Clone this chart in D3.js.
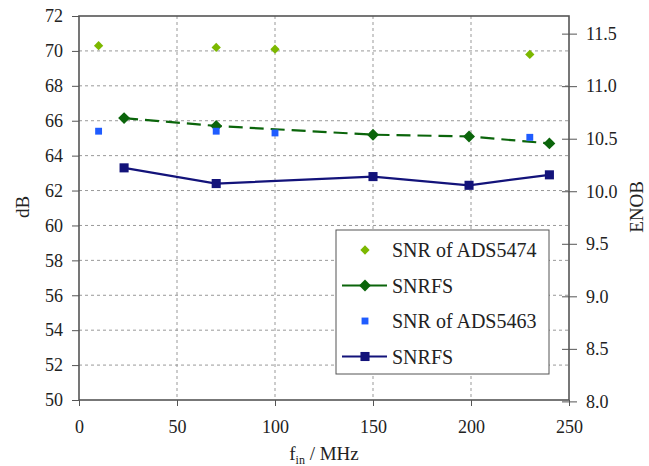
<!DOCTYPE html>
<html>
<head>
<meta charset="utf-8">
<script src="https://cdn.jsdelivr.net/npm/d3@7"></script>
<style>
  body { margin: 0; background: #fff; }
</style>
</head>
<body>
<div id="graph"></div>
<script>
// SNR of ADS5474 (markers only)
var ads5474X = [10, 70, 100, 230]
var ads5474Y = [70.3, 70.2, 70.1, 69.8]
// SNRFS (dashed, dark green)
var snrfsGreenX = [23, 70, 150, 199, 240]
var snrfsGreenY = [66.15, 65.7, 65.2, 65.1, 64.7]
// SNR of ADS5463 (markers only)
var ads5463X = [10, 70, 100, 230]
var ads5463Y = [65.4, 65.4, 65.3, 65.05]
// SNRFS (solid, navy)
var snrfsNavyX = [23, 70, 150, 199, 240]
var snrfsNavyY = [63.3, 62.4, 62.8, 62.3, 62.9]

var xTicks = [0, 50, 100, 150, 200, 250]
var yTicks = [50, 52, 54, 56, 58, 60, 62, 64, 66, 68, 70, 72]
var enobTicks = [8.0, 8.5, 9.0, 9.5, 10.0, 10.5, 11.0, 11.5]
var legendLabels = ['SNR of ADS5474', 'SNRFS', 'SNR of ADS5463', 'SNRFS']

var FONT = "'Liberation Serif', 'DejaVu Serif', serif"
var W = 649, H = 466
var m = {top: 16, left: 79, right: 80, bottom: 66}
var w = W - m.left - m.right, h = H - m.top - m.bottom

var svg = d3.select('#graph').append('svg').attr('width', W).attr('height', H)
  .style('font-family', FONT)
var g = svg.append('g').attr('transform', `translate(${m.left},${m.top})`)

var x = d3.scaleLinear().domain([0, 250]).range([0, w])
var y = d3.scaleLinear().domain([50, 72]).range([h, 0])
// ENOB = (SNR - 1.76) / 6.02
var y2 = d3.scaleLinear().domain([(50 - 1.76) / 6.02, (72 - 1.76) / 6.02]).range([h, 0])

// grid
g.append('g').selectAll('line').data(xTicks.slice(1, -1)).join('line')
  .attr('x1', d => x(d)).attr('x2', d => x(d)).attr('y1', 0).attr('y2', h)
  .attr('stroke', '#999').attr('stroke-dasharray', '3,3')
g.append('g').selectAll('line').data(yTicks.slice(1, -1)).join('line')
  .attr('y1', d => y(d)).attr('y2', d => y(d)).attr('x1', 0).attr('x2', w)
  .attr('stroke', '#999').attr('stroke-dasharray', '3,3')

// axes
var styleAxis = sel => {
  sel.attr('font-family', null)
  sel.select('.domain').remove()
  sel.selectAll('line').attr('stroke', '#555')
  sel.selectAll('text').attr('font-size', 18).attr('fill', '#222').style('font-family', FONT)
}
g.append('g').attr('transform', `translate(0,${h})`)
  .call(d3.axisBottom(x).tickValues(xTicks).tickSize(6).tickPadding(14))
  .call(styleAxis)
  .selectAll('line').attr('y1', 0)
g.append('g')
  .call(d3.axisLeft(y).tickValues(yTicks).tickSize(7).tickPadding(9))
  .call(styleAxis)
g.append('g').attr('transform', `translate(${w},0)`)
  .call(d3.axisRight(y2).tickValues(enobTicks).tickFormat(d3.format('.1f')).tickSize(8).tickPadding(9))
  .call(styleAxis)
  .selectAll('.tick line').attr('x1', -7)

g.append('rect').attr('width', w).attr('height', h)
  .attr('fill', 'none').attr('stroke', '#555').attr('stroke-width', 1.6)

// series
var line = d3.line().x(d => x(d[0])).y(d => y(d[1]))
var diamond = d3.symbol().type(d3.symbolDiamond2)
var square = d3.symbol().type(d3.symbolSquare2)

function series(xs, ys, color, dash, sym, size, lineW) {
  var pts = d3.zip(xs, ys)
  if (lineW) g.append('path').attr('d', line(pts)).attr('fill', 'none')
    .attr('stroke', color).attr('stroke-width', lineW).attr('stroke-dasharray', dash)
  g.append('g').selectAll('path').data(pts).join('path')
    .attr('transform', d => `translate(${x(d[0])},${y(d[1])})`)
    .attr('d', sym.size(size)()).attr('fill', color)
}
series(ads5474X, ads5474Y, '#7cb800', null, diamond, 55, 0)
series(snrfsGreenX, snrfsGreenY, '#0b650b', '14,7', diamond, 90, 2.2)
series(ads5463X, ads5463Y, '#1f5cff', null, square, 60, 0)
series(snrfsNavyX, snrfsNavyY, '#13137a', null, square, 105, 2.2)

// labels
svg.append('text').attr('transform', 'translate(29,207) rotate(-90)')
  .attr('text-anchor', 'middle').attr('font-size', 19).attr('fill', '#222').text('dB')
svg.append('text').attr('transform', 'translate(643,207) rotate(-90)')
  .attr('text-anchor', 'middle').attr('font-size', 19).attr('fill', '#222').text('ENOB')
var xl = svg.append('text').attr('x', 324).attr('y', 460).attr('text-anchor', 'middle')
  .attr('font-size', 19).attr('fill', '#222')
xl.append('tspan').text('f')
xl.append('tspan').attr('dy', 4).attr('font-size', 12).text('in')
xl.append('tspan').attr('dy', -4).text(' / MHz')

// legend
var lg = svg.append('g').attr('transform', 'translate(336,230)')
lg.append('rect').attr('width', 213).attr('height', 144)
  .attr('fill', '#fff').attr('stroke', '#555')
var legendStyle = [
  {c: '#7cb800', sym: diamond, size: 55, line: false},
  {c: '#0b650b', sym: diamond, size: 90, line: true},
  {c: '#1f5cff', sym: square, size: 60, line: false},
  {c: '#13137a', sym: square, size: 105, line: true}
]
var rows = lg.selectAll('g.row').data(legendLabels).join('g')
  .attr('transform', (d, i) => `translate(0,${20 + i * 35.5})`)
rows.each(function(d, i) {
  var s = legendStyle[i], r = d3.select(this)
  if (s.line) r.append('line').attr('x1', 6).attr('x2', 51)
    .attr('stroke', s.c).attr('stroke-width', 2.2)
  r.append('path').attr('transform', 'translate(29,0)').attr('d', s.sym.size(s.size)()).attr('fill', s.c)
  r.append('text').attr('x', 56).attr('y', 7).attr('font-size', 20).attr('fill', '#222').text(d)
})
</script>
</body>
</html>
